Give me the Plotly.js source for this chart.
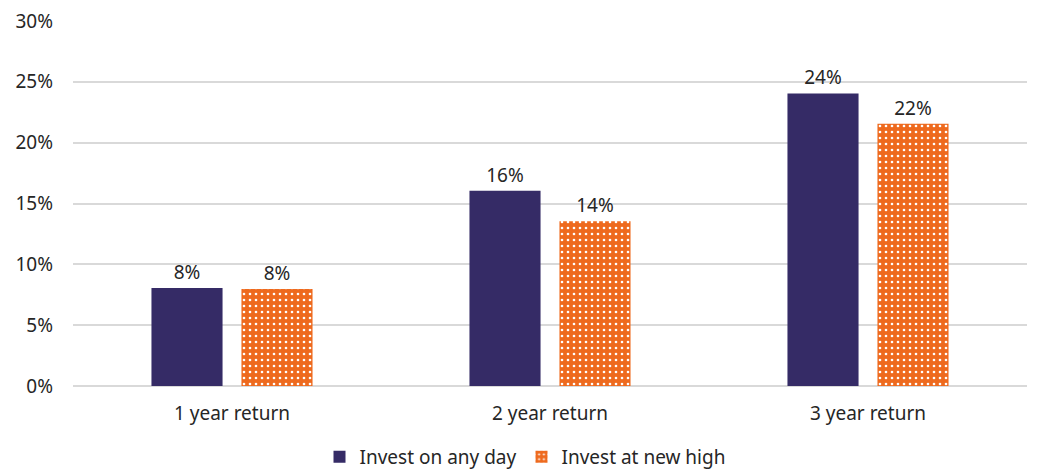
<!DOCTYPE html>
<html>
<head>
<meta charset="utf-8">
<script src="https://cdn.plot.ly/plotly-3.0.1.min.js"></script>
<style>
  html, body { margin: 0; padding: 0; background: #fff; }
  #chart { width: 1050px; height: 474px; }
</style>
</head>
<body>
<div id="chart"></div>
<script>
var categories = ['1 year return', '2 year return', '3 year return'];
var anyDay = [0.0805, 0.1605, 0.2405];
var newHigh = [0.0798, 0.1355, 0.2155];
var tickVals = [0, 0.05, 0.10, 0.15, 0.20, 0.25, 0.30];
var tickText = ['0%', '5%', '10%', '15%', '20%', '25%', '30%'];

var font = { family: 'Noto Sans, DejaVu Sans, sans-serif', size: 19, color: '#262626' };

var data = [
  {
    type: 'bar',
    name: 'Invest on any day',
    x: categories,
    y: anyDay,
    marker: { color: '#352B66' },
    texttemplate: '%{y:.0%}',
    textposition: 'outside',
    cliponaxis: false,
    textfont: font,
    hoverinfo: 'none'
  },
  {
    type: 'bar',
    name: 'Invest at new high',
    x: categories,
    y: newHigh,
    marker: {
      color: '#EE6A1E',
      pattern: { shape: '.', fgcolor: '#ffffff', bgcolor: '#EE6A1E', size: 6, solidity: 0.15 }
    },
    texttemplate: '%{y:.0%}',
    textposition: 'outside',
    cliponaxis: false,
    textfont: font,
    hoverinfo: 'none'
  }
];

var layout = {
  width: 1050,
  height: 474,
  margin: { t: 21, b: 88, l: 73, r: 23, autoexpand: false },
  paper_bgcolor: '#fff',
  plot_bgcolor: '#fff',
  font: font,
  barmode: 'group',
  bargap: 0.434,
  bargroupgap: 0.21,
  showlegend: true,
  legend: {
    orientation: 'h',
    x: 0.5, xanchor: 'center',
    xref: 'container',
    y: 0.036, yanchor: 'middle',
    yref: 'container',
    font: font,
    traceorder: 'normal',
    itemwidth: 30
  },
  xaxis: {
    showgrid: false,
    ticks: '',
    tickfont: font,
    showline: false,
    ticklabelstandoff: 14
  },
  yaxis: {
    range: [0, 0.30],
    tickvals: tickVals,
    ticktext: tickText,
    showgrid: true,
    gridcolor: '#d9d9d9',
    gridwidth: 2,
    zeroline: true,
    zerolinecolor: '#d9d9d9',
    zerolinewidth: 2,
    ticks: '',
    tickfont: font,
    ticklabelstandoff: 19
  }
};

Plotly.newPlot('chart', data, layout, { displayModeBar: false, staticPlot: true });
</script>
</body>
</html>
